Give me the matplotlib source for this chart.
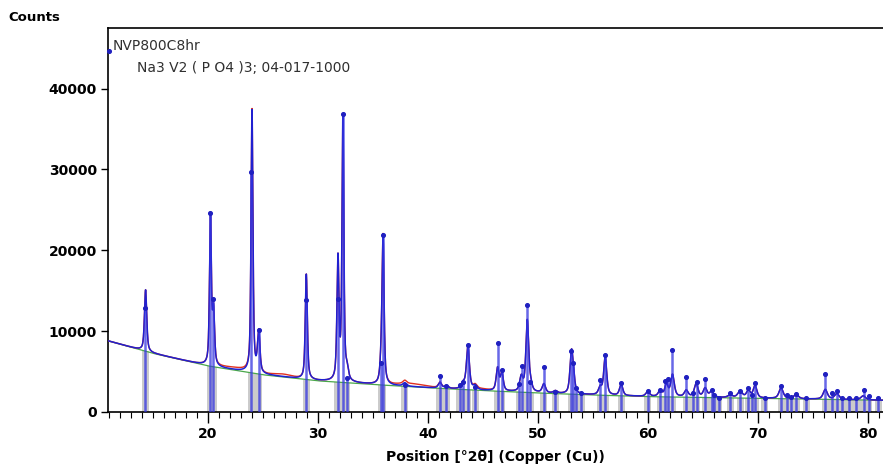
import numpy as np
import matplotlib.pyplot as plt
from matplotlib.ticker import MultipleLocator

# background knots (2theta, counts)
bg_pos = [10.9, 15, 20, 25, 30, 35, 40, 45, 50, 55, 60, 70, 81.4]
bg_cnt = [8800, 7250, 5700, 4600, 3850, 3400, 3000, 2650, 2350, 2100, 1900, 1700, 1450]

# fitted profile peaks: position, net height above background, fwhm
pk_pos = [14.32, 20.22, 20.50, 24.00, 24.61, 28.94, 31.82, 32.27, 32.65, 35.75, 35.92,
          37.9, 41.1, 41.7, 43.2, 43.64, 44.3, 46.34, 46.73, 48.5, 49.04, 49.35, 50.55,
          51.6, 53.06, 53.25, 55.67, 56.13, 57.58, 60.0, 61.13, 61.7, 62.25, 63.5, 64.4,
          65.22, 65.8, 67.5, 68.4, 69.15, 69.76, 72.13, 73.5, 76.15, 77.2, 79.6]
pk_net = [7600, 18500, 6500, 32500, 5000, 13000, 15000, 32500, 1200, 2000, 18000,
          400, 700, 300, 700, 5300, 500, 2800, 2200, 1800, 8800, 800, 1100,
          300, 5000, 1500, 900, 4700, 1400, 600, 700, 1500, 2700, 800, 1600,
          1100, 700, 300, 800, 900, 1500, 1300, 500, 1200, 700, 500]
pk_fwhm = [0.24, 0.2, 0.22, 0.2, 0.26, 0.22, 0.22, 0.2, 0.3, 0.26, 0.22,
           0.4, 0.35, 0.4, 0.4, 0.32, 0.4, 0.3, 0.3, 0.35, 0.3, 0.3, 0.35,
           0.4, 0.32, 0.3, 0.35, 0.32, 0.35, 0.4, 0.4, 0.35, 0.38, 0.4, 0.4,
           0.4, 0.4, 0.5, 0.5, 0.4, 0.4, 0.45, 0.5, 0.45, 0.5, 0.5]
eta = 0.6  # lorentzian share of the pseudo-voigt

# broad humps seen only in the measured scan: position, height, width
hump_pos = [22.5, 26.8, 38.5, 44.8]
hump_h = [250, 300, 350, 150]
hump_w = [3.0, 2.0, 3.0, 1.5]

# peak list sticks: position, counts at marker
st_pos = [14.31, 20.22, 20.49, 23.95, 24.61, 28.94, 31.82, 32.27, 32.6, 35.75, 35.9,
          37.9, 41.1, 41.67, 42.9, 43.2, 43.64, 44.3, 46.34, 46.73, 48.3, 48.55, 49.04,
          49.3, 50.55, 51.58, 53.06, 53.2, 53.5, 53.95, 55.67, 56.13, 57.58, 60.0, 61.13,
          61.6, 61.8, 62.25, 63.5, 64.1, 64.46, 65.22, 65.82, 66.06, 66.45, 67.52, 68.43,
          69.15, 69.46, 69.76, 70.64, 72.13, 72.68, 73.04, 73.5, 74.43, 76.15, 76.8, 77.18,
          77.67, 78.27, 78.94, 79.64, 80.1, 80.97]
st_top = [12800, 24560, 14000, 29700, 10150, 13800, 14000, 36860, 4200, 6000, 21860,
          3300, 4510, 3230, 3300, 3730, 8300, 3100, 8530, 5200, 3400, 5630, 13290,
          3760, 5550, 2480, 7580, 6120, 2980, 2360, 3930, 7080, 3560, 2610, 2730,
          3850, 4060, 7700, 4350, 2360, 3760, 4140, 2730, 2110, 1780, 2320, 2600,
          2940, 2070, 3640, 1780, 3230, 2070, 1900, 2200, 1780, 4680, 2400, 2600,
          1780, 1780, 1700, 2700, 2000, 1780]

x = np.linspace(10.9, 81.4, 7000)
bg = np.interp(x, bg_pos, bg_cnt)
calc = bg.copy()
for p, h, w in zip(pk_pos, pk_net, pk_fwhm):
    d = (x - p) / (w / 2)
    calc += h * (eta / (1 + d ** 2) + (1 - eta) * np.exp(-np.log(2) * d ** 2))
obs = calc.copy()
for p, h, w in zip(hump_pos, hump_h, hump_w):
    obs += h * np.exp(-0.5 * ((x - p) / (w / 2.35)) ** 2)

fig = plt.figure(figsize=(8.83, 4.65), dpi=100)
ax = fig.add_axes([0.1223, 0.114, 0.8777, 0.826])
ax.set_xlim(10.9, 81.4)
ax.set_ylim(0, 47500)

# reference pattern bars up to the background
st_bg = np.interp(st_pos, bg_pos, bg_cnt)
ax.bar(st_pos, st_bg, width=0.65, color="#cbcbcb", zorder=1)

ax.plot(x, bg, color="#4aa84a", lw=0.9, zorder=2)
ax.plot(x, obs, color="#e03020", lw=1.0, zorder=3)
ax.plot(x, calc, color="#2020d0", lw=1.1, zorder=4)

ax.vlines(st_pos, 0, st_top, color="#3535e0", lw=1.8, alpha=0.75, zorder=5)
ax.scatter(st_pos, st_top, s=7, color="#2020c0", zorder=6)
ax.scatter([11.0], [44600], s=7, color="#2020c0", zorder=6, clip_on=False)

ax.xaxis.set_major_locator(MultipleLocator(10))
ax.xaxis.set_minor_locator(MultipleLocator(1))
ax.set_yticks([0, 10000, 20000, 30000, 40000])
ax.tick_params(axis="x", which="major", direction="out", length=8, width=1, pad=3)
ax.tick_params(axis="x", which="minor", direction="out", length=4, width=0.8)
ax.tick_params(axis="y", direction="out", length=5, width=1, pad=3)
for lab in ax.get_xticklabels() + ax.get_yticklabels():
    lab.set_fontweight("bold")
    lab.set_fontsize(10)
ax.spines["right"].set_visible(False)
for s in ["left", "bottom", "top"]:
    ax.spines[s].set_linewidth(1.2)

ax.set_xlabel("Position [°2θ] (Copper (Cu))", fontsize=10, fontweight="bold", labelpad=6)
fig.text(0.009, 0.962, "Counts", fontsize=9.5, fontweight="bold", va="center")
ax.text(0.006, 0.972, "NVP800C8hr", transform=ax.transAxes, fontsize=10, color="#303030", va="top")
ax.text(0.038, 0.915, "Na3 V2 ( P O4 )3; 04-017-1000", transform=ax.transAxes,
        fontsize=10, color="#303030", va="top")

fig.savefig("out.png", dpi=100)
